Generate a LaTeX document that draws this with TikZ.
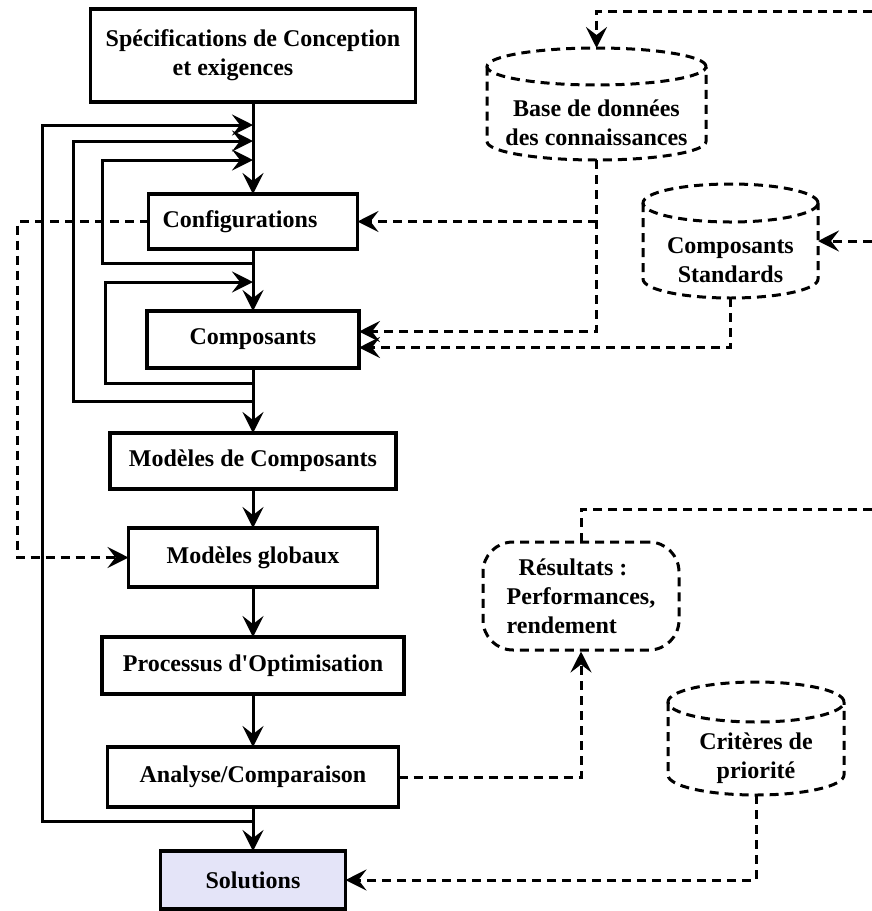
\documentclass[tikz,border=0pt]{standalone}
\usepackage{fontspec}
\setmainfont{Liberation Serif}
\usepackage{xcolor}
\usetikzlibrary{arrows.meta,positioning,calc}

\definecolor{solfill}{RGB}{228,228,248}

% dashed drum (cylinder) round a body node: node, x radius, y radius
\newcommand\drawdrum[3]{%
  \draw[dashline] ($(#1.north)+(0,#3)$) ellipse [x radius=#2, y radius=#3];
  \draw[dashline] ($(#1.north west)+(0,#3)$) -- ($(#1.south west)+(0,#3)$)
    arc [start angle=180, end angle=360, x radius=#2, y radius=#3]
    -- ($(#1.north east)+(0,#3)$);
  \coordinate (#1 top) at ($(#1.north)+(0,2*#3)$);
}

\begin{document}
\begin{tikzpicture}[
    x=0.5pt, y=0.5pt,
    font=\bfseries\fontsize{12}{14.5}\selectfont,
    line width=1.5pt,
    >={Stealth[length=10.5pt,width=10.5pt,inset=4pt]},
    box/.style={draw, line width=1.7pt, fill=white, align=center, inner sep=2pt, outer sep=0pt},
    dashline/.style={dash pattern=on 4.5pt off 3pt},
    drum/.style={align=center, inner sep=0pt, outer sep=0pt},
    node distance=20pt,
    ]
\useasboundingbox (0,0) rectangle (872,-911);

% main column
\node[box, minimum width=162.5pt, minimum height=46.5pt] (spec) at (253,-55.5)
     {Spécifications de Conception\\et exigences\hspace*{20pt}};
\node[box, minimum width=104.5pt, minimum height=27.5pt, below=46pt of spec] (conf) {Configurations\hspace*{13pt}};
\node[box, minimum width=106pt, minimum height=28.5pt, below=31pt of conf] (compo) {Composants};
\node[box, minimum width=143pt, minimum height=28pt, below=32.5pt of compo] (mcomp) {Modèles de Composants};
\node[box, minimum width=124.5pt, minimum height=29.5pt, below=19.5pt of mcomp] (mglob) {Modèles globaux};
\node[box, minimum width=151pt, minimum height=28.5pt, below=25pt of mglob] (optim) {Processus d\textquotesingle Optimisation};
\node[box, minimum width=145.5pt, minimum height=30pt, below=26.5pt of optim] (analyse) {Analyse/Comparaison};
\node[box, fill=solfill, minimum width=92.5pt, minimum height=29pt, below=22pt of analyse] (sol) {Solutions};

% stores and results on the right
\node[drum, minimum width=109.5pt, minimum height=37.5pt] (kbase) at (596.5,-122.5) {Base de données\\des connaissances};
\node[drum, minimum width=87.5pt, minimum height=38pt] (cstd) at (730.5,-260) {Composants\\Standards};
\node[drum, minimum width=88pt, minimum height=36.5pt] (crit) at (756,-758.5) {Critères de\\priorité};
\node[draw, dashline, rounded corners=15pt, align=left, minimum width=98pt, minimum height=54pt] (res) at (581,-596)
     {\hspace*{6pt}Résultats :\\Performances,\\rendement};
\drawdrum{kbase}{54.75pt}{9.25pt}
\drawdrum{cstd}{43.75pt}{9.5pt}
\drawdrum{crit}{44pt}{10pt}

% free ends on the right edge
\coordinate (inKB) at (872,-11);
\coordinate (inStd) at (872,-241);
\coordinate (inRes) at (872,-509);

\draw[->] (spec) -- (conf);
\draw[->] (conf) -- (compo);
\draw[->] (compo) -- (mcomp);
\draw[->] (mcomp) -- (mglob);
\draw[->] (mglob) -- (optim);
\draw[->] (optim) -- (analyse);
\draw[->] (analyse) -- (sol);

% feedback loops
\draw[->] ($(analyse.south)+(0,-14)$) -- ++(-211,0) |- ($(spec.south)+(0,-23)$);
\draw[->] ($(compo.south)+(0,-33)$) -- ++(-180,0) |- ($(spec.south)+(0,-39)$);
\draw[->] ($(conf.south)+(0,-14)$) -- ++(-151,0) |- ($(spec.south)+(0,-58)$);
\draw[->] ($(compo.south)+(0,-15)$) -- ++(-148,0) |- ($(conf.south)+(0,-33)$);

% data links
\draw[dashline, ->] (inKB) -| (kbase top);
\draw[dashline, ->] (kbase.south) |- ($(compo.east)+(0,8)$);
\draw[dashline, ->] (kbase.south |- conf.east) -- (conf.east);
\draw[dashline, ->] (inStd) -- (inStd -| cstd.east);
\draw[dashline, ->] (cstd.south) |- ($(compo.east)+(0,-8)$);
\draw[dashline, ->] (conf.west) -- ++(-131,0) |- (mglob.west);
\draw[dashline, ->] (analyse.east) -| (res.south);
\draw[dashline] (inRes) -| (res.north);
\draw[dashline, ->] (crit.south) |- (sol.east);
\end{tikzpicture}
\end{document}
